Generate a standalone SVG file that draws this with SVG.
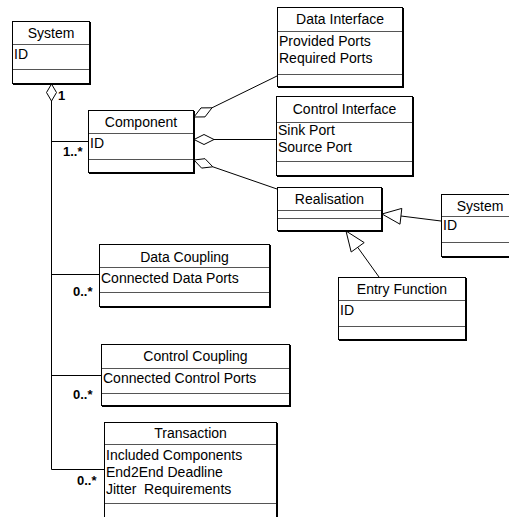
<svg xmlns="http://www.w3.org/2000/svg" width="509" height="517" viewBox="0 0 509 517">
<style>
.sh{fill:#000}
.bx{fill:#fff;stroke:#000;stroke-width:1}
.dv{stroke:#555;stroke-width:1;fill:none}
.t{font-family:"Liberation Sans",Arial,sans-serif;font-size:14px;fill:#000}
.c{text-anchor:middle}
.m{font-family:"Liberation Sans",Arial,sans-serif;font-size:13px;font-weight:bold;fill:#000}
.ln{stroke:#000;stroke-width:1;fill:none}
.dm{fill:#fff;stroke:#000;stroke-width:1}
</style>
<rect width="509" height="517" fill="#fff"/>
<g id="connectors">
<polyline class="ln" points="51.5,101 51.5,469.5 104,469.5"/>
<line class="ln" x1="51" y1="141.5" x2="88" y2="141.5"/>
<line class="ln" x1="51" y1="274.5" x2="99" y2="274.5"/>
<line class="ln" x1="51" y1="375.5" x2="101" y2="375.5"/>
<polygon class="dm" points="51.5,84 46.5,92.5 51.5,101 56.5,92.5"/>
<text class="m" x="58" y="100">1</text>
<text class="m" x="63" y="156">1..*</text>
<text class="m" x="73" y="296">0..*</text>
<text class="m" x="73" y="399">0..*</text>
<text class="m" x="77" y="485">0..*</text>
<line class="ln" x1="212" y1="107.8" x2="277" y2="76"/>
<polygon class="dm" points="194,117 205,116.9 212,107.8 201,107.9"/>
<line class="ln" x1="214" y1="139.5" x2="276" y2="139.5"/>
<polygon class="dm" points="194,139.5 204,134.5 214,139.5 204,144.5"/>
<line class="ln" x1="212.8" y1="166.8" x2="277" y2="189"/>
<polygon class="dm" points="194,160 201.6,168.1 212.8,166.8 205,158.7"/>
<line class="ln" x1="401" y1="216" x2="441" y2="221"/>
<polygon class="dm" points="382,214 400,224.2 401.8,208.4"/>
<line class="ln" x1="357.7" y1="247.3" x2="379" y2="277"/>
<polygon class="dm" points="346,231 364.2,242.6 351.2,252"/>
</g>
<g id="system-left">
<rect class="sh" x="13" y="22" width="78" height="63"/>
<rect class="bx" x="12.5" y="21.5" width="77" height="62"/>
<line class="dv" x1="13" y1="44.5" x2="89" y2="44.5"/>
<line class="dv" x1="13" y1="69.5" x2="89" y2="69.5"/>
<text class="t c" x="51" y="38">System</text>
<text class="t" x="14" y="59">ID</text>
</g>
<g id="component">
<rect class="sh" x="89" y="111" width="106" height="63"/>
<rect class="bx" x="88.5" y="110.5" width="105" height="62"/>
<line class="dv" x1="89" y1="133.5" x2="193" y2="133.5"/>
<line class="dv" x1="89" y1="159.5" x2="193" y2="159.5"/>
<text class="t c" x="141" y="127">Component</text>
<text class="t" x="90" y="148">ID</text>
</g>
<g id="data-interface">
<rect class="sh" x="278" y="8" width="126" height="80"/>
<rect class="bx" x="277.5" y="7.5" width="125" height="79"/>
<line class="dv" x1="278" y1="31.5" x2="402" y2="31.5"/>
<line class="dv" x1="278" y1="74.5" x2="402" y2="74.5"/>
<text class="t c" x="340" y="24">Data Interface</text>
<text class="t" x="279" y="46">Provided Ports</text>
<text class="t" x="279" y="63">Required Ports</text>
</g>
<g id="control-interface">
<rect class="sh" x="277" y="97" width="137" height="80"/>
<rect class="bx" x="276.5" y="96.5" width="136" height="79"/>
<line class="dv" x1="277" y1="122.5" x2="412" y2="122.5"/>
<line class="dv" x1="277" y1="161.5" x2="412" y2="161.5"/>
<text class="t c" x="344.5" y="114">Control Interface</text>
<text class="t" x="278" y="135">Sink Port</text>
<text class="t" x="278" y="152">Source Port</text>
</g>
<g id="realisation">
<rect class="sh" x="278" y="188" width="105" height="44"/>
<rect class="bx" x="277.5" y="187.5" width="104" height="43"/>
<line class="dv" x1="278" y1="210.5" x2="381" y2="210.5"/>
<line class="dv" x1="278" y1="218.5" x2="381" y2="218.5"/>
<text class="t c" x="329.5" y="204">Realisation</text>
</g>
<g id="system-right">
<rect class="sh" x="442" y="195" width="78" height="63"/>
<rect class="bx" x="441.5" y="194.5" width="77" height="62"/>
<line class="dv" x1="442" y1="216.5" x2="518" y2="216.5"/>
<line class="dv" x1="442" y1="242.5" x2="518" y2="242.5"/>
<text class="t c" x="480" y="211">System</text>
<text class="t" x="443" y="230">ID</text>
</g>
<g id="entry-function">
<rect class="sh" x="339" y="278" width="128" height="63"/>
<rect class="bx" x="338.5" y="277.5" width="127" height="62"/>
<line class="dv" x1="339" y1="300.5" x2="465" y2="300.5"/>
<line class="dv" x1="339" y1="326.5" x2="465" y2="326.5"/>
<text class="t c" x="402" y="294">Entry Function</text>
<text class="t" x="340" y="315">ID</text>
</g>
<g id="data-coupling">
<rect class="sh" x="100" y="245" width="171" height="63"/>
<rect class="bx" x="99.5" y="244.5" width="170" height="62"/>
<line class="dv" x1="100" y1="267.5" x2="269" y2="267.5"/>
<line class="dv" x1="100" y1="292.5" x2="269" y2="292.5"/>
<text class="t c" x="184.5" y="262">Data Coupling</text>
<text class="t" x="101" y="283">Connected Data Ports</text>
</g>
<g id="control-coupling">
<rect class="sh" x="102" y="345" width="189" height="62"/>
<rect class="bx" x="101.5" y="344.5" width="188" height="61"/>
<line class="dv" x1="102" y1="368.5" x2="289" y2="368.5"/>
<line class="dv" x1="102" y1="393.5" x2="289" y2="393.5"/>
<text class="t c" x="195.5" y="361">Control Coupling</text>
<text class="t" x="103" y="383">Connected Control Ports</text>
</g>
<g id="transaction">
<rect class="sh" x="105" y="423" width="173" height="97"/>
<rect class="bx" x="104.5" y="422.5" width="172" height="96"/>
<line class="dv" x1="105" y1="444.5" x2="276" y2="444.5"/>
<line class="dv" x1="105" y1="503.5" x2="276" y2="503.5"/>
<text class="t c" x="190.5" y="438">Transaction</text>
<text class="t" x="106" y="460">Included Components</text>
<text class="t" x="106" y="477">End2End Deadline</text>
<text class="t" x="106" y="494" style="white-space:pre">Jitter  Requirements</text>
</g>
</svg>
